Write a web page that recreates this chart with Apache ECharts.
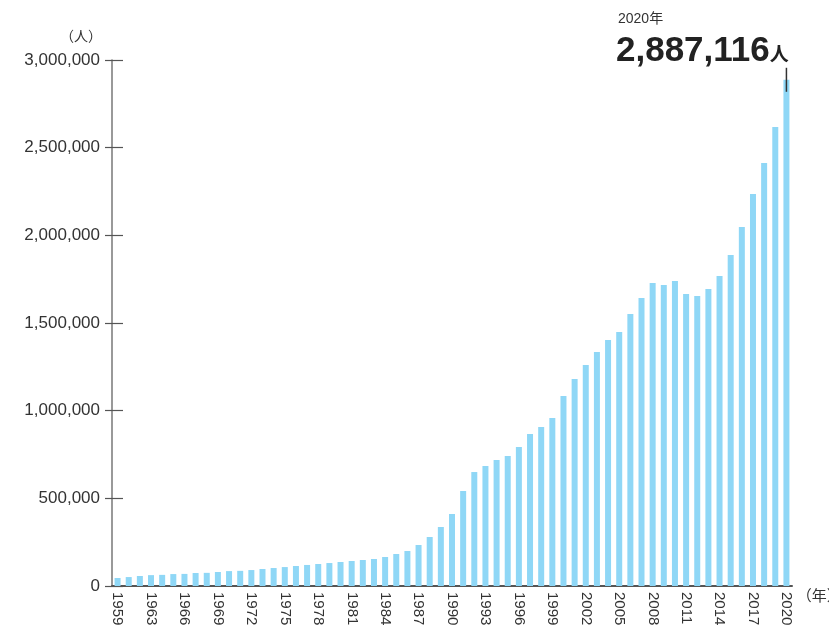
<!DOCTYPE html>
<html>
<head>
<meta charset="utf-8">
<script src="https://cdn.jsdelivr.net/npm/echarts@6/dist/echarts.min.js"></script>
<style>
	html, body { margin: 0; padding: 0; background: #fff; }
	#chart { width: 829px; height: 632px; }
</style>
</head>
<body>
<div id="chart"></div>
<script>
// years on the x axis (1960 is not in the source chart)
const years = [
	'1959', '1961', '1962', '1963', '1964', '1965', '1966', '1967', '1968', '1969',
	'1970', '1971', '1972', '1973', '1974', '1975', '1976', '1977', '1978', '1979',
	'1980', '1981', '1982', '1983', '1984', '1985', '1986', '1987', '1988', '1989',
	'1990', '1991', '1992', '1993', '1994', '1995', '1996', '1997', '1998', '1999',
	'2000', '2001', '2002', '2003', '2004', '2005', '2006', '2007', '2008', '2009',
	'2010', '2011', '2012', '2013', '2014', '2015', '2016', '2017', '2018', '2019',
	'2020'
]

// people
const people = [
	45600, 51000, 57000, 62000, 63500, 68000, 69000, 74000, 75000, 80000,
	85000, 86500, 91000, 97000, 102500, 108000, 114000, 120000, 125500, 131000,
	137000, 142600, 148300, 154000, 165400, 182500, 199600, 233800, 279400, 336500,
	410600, 541800, 650000, 684400, 718600, 741400, 792700, 866900, 906800, 958100,
	1083600, 1180500, 1260400, 1334500, 1403000, 1448600, 1551200, 1642500, 1728000, 1716600,
	1739400, 1665300, 1653900, 1693800, 1767900, 1887700, 2047400, 2235600, 2412400, 2617700,
	2887116
]

const yTicks = [0, 500000, 1000000, 1500000, 2000000, 2500000, 3000000]

const font = "'Liberation Sans', Arial, 'Noto Sans CJK JP', sans-serif"
const textColor = '#333'
const barColor = '#8fd7f6'

const chart = echarts.init(document.getElementById('chart'))

const option = {
	animation: false,
	textStyle: { fontFamily: font },
	title: [
		{
			text: '2020年',
			left: 613,
			top: 7,
			textStyle: { color: textColor, fontSize: 14, fontWeight: 'normal', fontFamily: font }
		},
		{
			text: '{b|2,887,116}{c|人}',
			left: 611,
			top: 26,
			textStyle: {
				fontFamily: font,
				rich: {
					b: { fontSize: 35, fontWeight: 'bold', color: '#222', fontFamily: font, lineHeight: 40 },
					c: { fontSize: 19, color: '#222', fontFamily: font, padding: [10, 0, 0, 0] }
				}
			}
		}
	],
	grid: {
		left: 112,
		right: 37,
		top: 60,
		bottom: 46,
		containLabel: false,
		outerBoundsMode: 'none'
	},
	xAxis: {
		type: 'category',
		data: years,
		name: '（年）',
		nameLocation: 'end',
		nameGap: 4,
		nameTextStyle: { color: textColor, fontSize: 15, verticalAlign: 'top', padding: [3, 0, 0, 0] },
		axisLine: { show: true, lineStyle: { color: '#555', width: 2 } },
		axisTick: { show: false },
		axisLabel: {
			interval: (i) => i % 3 === 0,
			rotate: -90,
			margin: 6,
			color: textColor,
			fontSize: 15
		}
	},
	yAxis: [
		{
			type: 'value',
			min: yTicks[0],
			max: yTicks[yTicks.length - 1],
			interval: yTicks[1] - yTicks[0],
			name: '（人）',
			nameLocation: 'end',
			nameGap: 16,
			nameTextStyle: { color: textColor, fontSize: 14, align: 'right', padding: [0, 10, 0, 0] },
			axisLine: { show: true, lineStyle: { color: '#777', width: 1.5 } },
			axisTick: { show: true, inside: false, length: 7, lineStyle: { color: '#555', width: 1.2 } },
			axisLabel: {
				color: textColor,
				fontSize: 17,
				margin: 12,
				formatter: (v) => v.toLocaleString('en-US')
			},
			splitLine: { show: false }
		},
		{
			type: 'value',
			min: yTicks[0],
			max: yTicks[yTicks.length - 1],
			interval: yTicks[1] - yTicks[0],
			position: 'left',
			axisLine: { show: false },
			axisTick: { show: true, inside: true, length: 11, lineStyle: { color: '#555', width: 1.2 } },
			axisLabel: { show: false },
			splitLine: { show: false }
		}
	],
	series: [
		{
			type: 'bar',
			data: people,
			barWidth: 6,
			itemStyle: { color: barColor },
			markPoint: {
				symbol: 'rect',
				symbolSize: [1.5, 24],
				itemStyle: { color: '#333' },
				label: { show: false },
				data: [{ coord: [years[years.length - 1], people[people.length - 1]] }]
			}
		}
	]
}

chart.setOption(option)
</script>
</body>
</html>
